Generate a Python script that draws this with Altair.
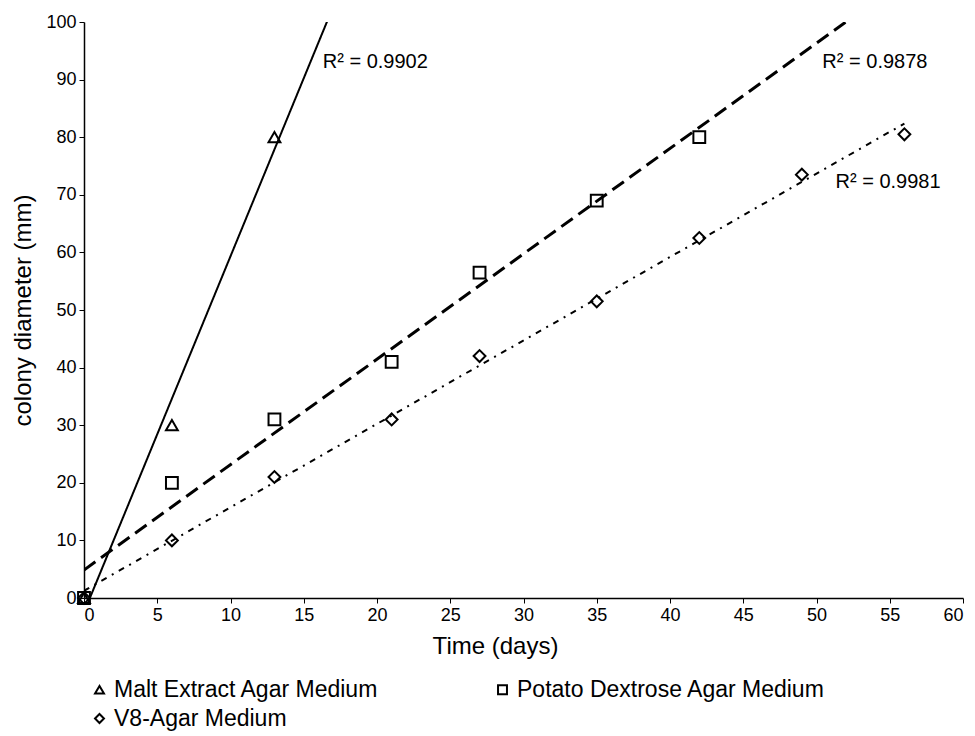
import altair as alt
import pandas as pd

FONT = "Liberation Sans"

media = ["Malt Extract Agar Medium", "Potato Dextrose Agar Medium", "V8-Agar Medium"]
shapes = ["triangle-up", "square", "diamond"]

malt_days = [0, 6, 13]
malt_diam = [0, 30, 80]
pda_days = [0, 6, 13, 21, 27, 35, 42]
pda_diam = [0, 20, 31, 41, 56.5, 69, 80]
v8_days = [0, 6, 13, 21, 27, 35, 42, 49, 56]
v8_diam = [0, 10, 21, 31, 42, 51.5, 62.5, 73.5, 80.5]

r2_text = ["R\u00b2 = 0.9902", "R\u00b2 = 0.9878", "R\u00b2 = 0.9981"]
r2_day = [16.3, 50.4, 51.3]
r2_diam = [93, 93, 72.2]

x_ticks = list(range(0, 61, 5))
y_ticks = list(range(0, 101, 10))

rows = []
for m, dd, yy in zip(media, [malt_days, pda_days, v8_days], [malt_diam, pda_diam, v8_diam]):
    for d, y in zip(dd, yy):
        rows.append({"medium": m, "day": d, "diam": y})
df = pd.DataFrame(rows)
lbl = pd.DataFrame({"text": r2_text, "day": r2_day, "diam": r2_diam})

xscale = alt.Scale(domain=[0, 60], nice=False, zero=False)
yscale = alt.Scale(domain=[0, 100], nice=False)

xenc = alt.X("day:Q", scale=xscale,
             axis=alt.Axis(values=x_ticks, title="Time (days)", grid=False, titlePadding=10,
                           titleX=411, titleAnchor="middle"))
yenc = alt.Y("diam:Q", scale=yscale,
             axis=alt.Axis(values=y_ticks, title="colony diameter (mm)", grid=False, titlePadding=10))

points = alt.Chart(df).mark_point(filled=False, strokeWidth=2, color="black", opacity=1,
                                  size=140).encode(
    x=xenc, y=yenc,
    shape=alt.Shape("medium:N", scale=alt.Scale(domain=media, range=shapes),
                    legend=alt.Legend(title=None, orient="none", legendX=4, legendY=656,
                                      direction="horizontal",
                                      columns=2, columnPadding=112, rowPadding=5,
                                      labelFontSize=23, labelFont=FONT, labelLimit=0,
                                      labelColor="black",
                                      labelOffset=3, symbolSize=80, symbolStrokeWidth=2,
                                      symbolStrokeColor="black", symbolFillColor="white",
                                      symbolOpacity=1)),
)

extents = [[0, 20], [0, 55], [0, 56]]
dashes = [[1, 0], [14, 7], [6, 6, 2, 6]]
widths = [2, 3, 2]
trends = []
for m, ext, dsh, w in zip(media, extents, dashes, widths):
    trends.append(
        alt.Chart(df).transform_filter(alt.datum.medium == m)
        .transform_regression("day", "diam", extent=ext)
        .mark_line(clip=True, color="black", strokeWidth=w, strokeDash=dsh)
        .encode(x=alt.X("day:Q", scale=xscale), y=alt.Y("diam:Q", scale=yscale))
    )

texts = alt.Chart(lbl).mark_text(align="left", baseline="middle", fontSize=20, font=FONT,
                                 color="black").encode(
    x=alt.X("day:Q", scale=xscale), y=alt.Y("diam:Q", scale=yscale), text="text:N")

chart = alt.layer(*trends, points, texts).properties(
    width=879, height=576,
    autosize=alt.AutoSizeParams(type="none"),
    padding={"left": 84, "top": 22, "right": 12, "bottom": 138},
    background="white",
).configure_view(stroke=None).configure_axis(
    domainColor="black", tickColor="black", labelColor="black", titleColor="black",
    labelFont=FONT, titleFont=FONT, labelFontSize=18, titleFontSize=24,
    titleFontWeight="normal", tickSize=5, labelPadding=3, domainWidth=1.5,
)

chart.save("out.html", embed_options={"renderer": "svg", "actions": False})
